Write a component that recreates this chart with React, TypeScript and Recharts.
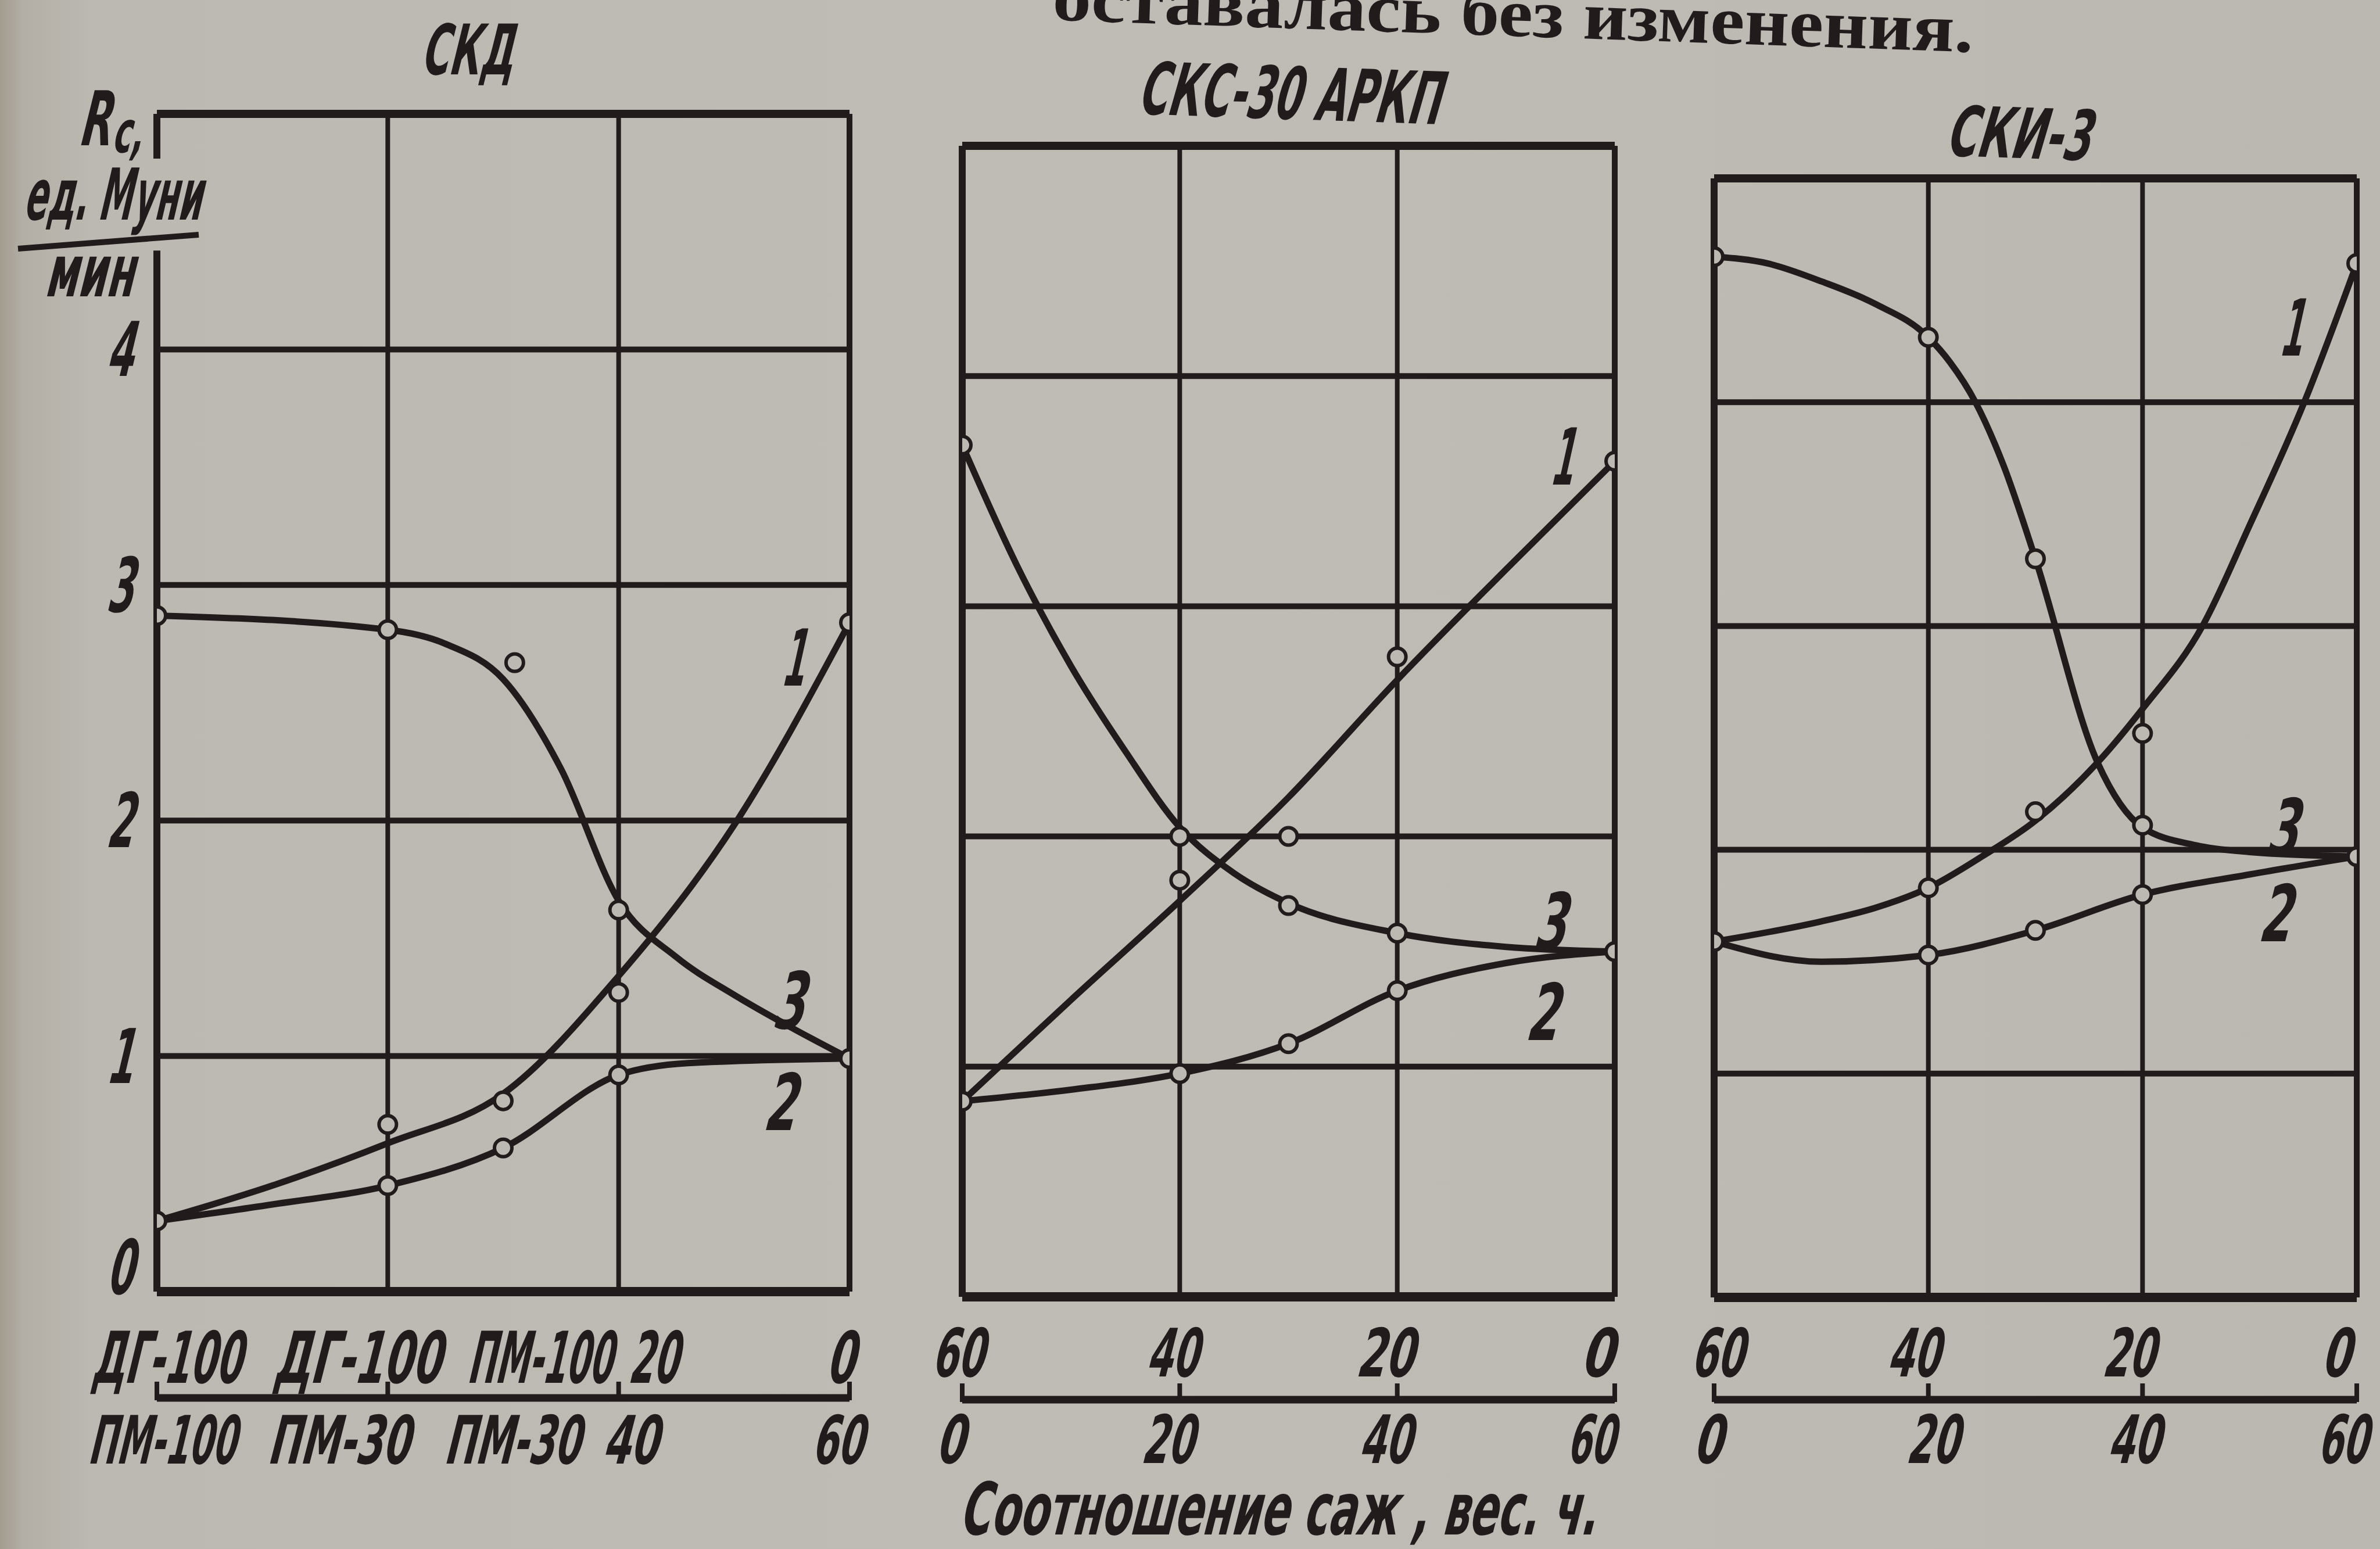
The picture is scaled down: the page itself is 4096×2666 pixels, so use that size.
import React from 'react';
import { ComposedChart, Line, Scatter, XAxis, YAxis, ReferenceLine } from 'recharts';

const INK = '#211b1b';
const PAPER = '#bcb9b2';
const SANS = '"DejaVu Sans", "Liberation Sans", sans-serif';
const SERIF = '"Liberation Serif", "DejaVu Serif", serif';

type Pt = { x: number; y: number };

// ---------- shared axes ----------
const gridX = [0, 1, 2, 3];
const gridY = [0, 1, 2, 3, 4, 5];
const yTicks = [0, 1, 2, 3, 4];
const yTickLabels = ['0', '1', '2', '3', '4'];

// ---------- Panel 1: СКД ----------
const p1LabelX = [0, 1, 1.5, 2, 3];
const p1TopLabels = ['ДГ-100', 'ДГ-100', 'ПМ-100', '20', '0'];
const p1BottomLabels = ['ПМ-100', 'ПМ-30', 'ПМ-30', '40', '60'];
const p1Curve1: Pt[] = [
  { x: 0, y: 0.3 }, { x: 0.5, y: 0.45 }, { x: 1, y: 0.63 }, { x: 1.5, y: 0.84 },
  { x: 2, y: 1.34 }, { x: 2.5, y: 1.98 }, { x: 3, y: 2.84 },
];
const p1Curve2: Pt[] = [
  { x: 0, y: 0.3 }, { x: 0.5, y: 0.37 }, { x: 1, y: 0.45 }, { x: 1.5, y: 0.61 },
  { x: 2, y: 0.92 }, { x: 2.3, y: 0.97 }, { x: 3, y: 0.99 },
];
const p1Curve3: Pt[] = [
  { x: 0, y: 2.87 }, { x: 1, y: 2.81 }, { x: 1.25, y: 2.75 }, { x: 1.5, y: 2.6 },
  { x: 1.75, y: 2.22 }, { x: 2, y: 1.66 }, { x: 2.25, y: 1.42 }, { x: 2.5, y: 1.26 },
  { x: 2.75, y: 1.12 }, { x: 3, y: 0.99 },
];
const p1Points1: Pt[] = [{ x: 0, y: 0.3 }, { x: 1, y: 0.71 }, { x: 1.5, y: 0.81 }, { x: 2, y: 1.27 }, { x: 3, y: 2.84 }];
const p1Points2: Pt[] = [{ x: 1, y: 0.45 }, { x: 1.5, y: 0.61 }, { x: 2, y: 0.92 }, { x: 3, y: 0.99 }];
const p1Points3: Pt[] = [{ x: 0, y: 2.87 }, { x: 1, y: 2.81 }, { x: 1.55, y: 2.67 }, { x: 2, y: 1.62 }];

// ---------- Panel 2: СКС-30 АРКП ----------
const p2LabelX = [0, 1, 2, 3];
const p2TopLabels = ['60', '40', '20', '0'];
const p2BottomLabels = ['0', '20', '40', '60'];
const p2Curve1: Pt[] = [
  { x: 0, y: 0.85 }, { x: 0.5, y: 1.29 }, { x: 1, y: 1.72 }, { x: 1.5, y: 2.17 },
  { x: 2, y: 2.68 }, { x: 2.5, y: 3.16 }, { x: 3, y: 3.63 },
];
const p2Curve2: Pt[] = [
  { x: 0, y: 0.85 }, { x: 0.5, y: 0.9 }, { x: 1, y: 0.97 }, { x: 1.5, y: 1.1 },
  { x: 2, y: 1.33 }, { x: 2.5, y: 1.45 }, { x: 3, y: 1.5 },
];
const p2Curve3: Pt[] = [
  { x: 0, y: 3.7 }, { x: 0.25, y: 3.18 }, { x: 0.5, y: 2.74 }, { x: 0.75, y: 2.37 },
  { x: 1, y: 2.04 }, { x: 1.25, y: 1.84 }, { x: 1.5, y: 1.71 }, { x: 2, y: 1.58 },
  { x: 2.5, y: 1.52 }, { x: 3, y: 1.5 },
];
const p2Points1: Pt[] = [{ x: 1, y: 1.81 }, { x: 1.5, y: 2.0 }, { x: 2, y: 2.78 }, { x: 3, y: 3.63 }];
const p2Points2: Pt[] = [{ x: 0, y: 0.85 }, { x: 1, y: 0.97 }, { x: 1.5, y: 1.1 }, { x: 2, y: 1.33 }, { x: 3, y: 1.5 }];
const p2Points3: Pt[] = [{ x: 0, y: 3.7 }, { x: 1, y: 2.0 }, { x: 1.5, y: 1.7 }, { x: 2, y: 1.58 }];

// ---------- Panel 3: СКИ-3 ----------
const p3LabelX = [0, 1, 2, 3];
const p3TopLabels = ['60', '40', '20', '0'];
const p3BottomLabels = ['0', '20', '40', '60'];
const p3Curve1: Pt[] = [
  { x: 0, y: 1.59 }, { x: 0.5, y: 1.68 }, { x: 0.75, y: 1.74 }, { x: 1, y: 1.83 },
  { x: 1.25, y: 1.97 }, { x: 1.5, y: 2.13 }, { x: 1.79, y: 2.39 }, { x: 2, y: 2.63 },
  { x: 2.28, y: 3.0 }, { x: 2.5, y: 3.45 }, { x: 2.755, y: 4.0 }, { x: 3, y: 4.62 },
];
const p3Curve2: Pt[] = [
  { x: 0, y: 1.59 }, { x: 0.5, y: 1.5 }, { x: 1, y: 1.53 }, { x: 1.5, y: 1.64 },
  { x: 2, y: 1.8 }, { x: 2.5, y: 1.89 }, { x: 3, y: 1.97 },
];
const p3Curve3: Pt[] = [
  { x: 0, y: 4.65 }, { x: 0.25, y: 4.62 }, { x: 0.5, y: 4.54 }, { x: 0.75, y: 4.44 },
  { x: 1, y: 4.29 }, { x: 1.1, y: 4.18 }, { x: 1.22, y: 4.0 }, { x: 1.35, y: 3.72 },
  { x: 1.5, y: 3.3 }, { x: 1.79, y: 2.39 }, { x: 2, y: 2.1 }, { x: 2.25, y: 2.02 },
  { x: 2.5, y: 1.99 }, { x: 3, y: 1.97 },
];
const p3Points1: Pt[] = [{ x: 1, y: 1.83 }, { x: 1.5, y: 2.17 }, { x: 2, y: 2.52 }, { x: 3, y: 4.62 }];
const p3Points2: Pt[] = [{ x: 0, y: 1.59 }, { x: 1, y: 1.53 }, { x: 1.5, y: 1.64 }, { x: 2, y: 1.8 }, { x: 3, y: 1.97 }];
const p3Points3: Pt[] = [{ x: 0, y: 4.65 }, { x: 1, y: 4.29 }, { x: 1.5, y: 3.3 }, { x: 2, y: 2.11 }];

// ---------- text helper ----------
function CText(props: any) {
  const { x, y, w, size, children, anchor = 'middle', rotate = 0, family = SANS, weight = 700, italic = true, skew = -8 } = props;
  const parts: string[] = [];
  if (rotate) parts.push(`rotate(${rotate} ${x} ${y})`);
  if (skew) parts.push(`translate(${x} ${y}) skewX(${skew}) translate(${-x} ${-y})`);
  return (
    <text
      x={x}
      y={y}
      fontSize={size}
      fontFamily={family}
      fontWeight={weight}
      fontStyle={italic ? 'italic' : 'normal'}
      textAnchor={anchor}
      fill={INK}
      textLength={w}
      lengthAdjust="spacingAndGlyphs"
      transform={parts.length ? parts.join(' ') : undefined}
    >
      {children}
    </text>
  );
}

const Marker = (props: any) => {
  const { cx, cy } = props;
  if (cx == null || cy == null) return <g />;
  return <circle cx={cx} cy={cy} r={15} fill={PAPER} stroke={INK} strokeWidth={6} />;
};

type PanelCfg = {
  left: number;
  marginLeft: number;
  yAxisWidth: number;
  showY: boolean;
  plotW: number;
  marginRight: number;
  plotTop: number;
  plotH: number;
  axisAH: number;
  axisBH: number;
  topBase: number;
  botBase: number;
  labelX: number[];
  topLabels: string[];
  bottomLabels: string[];
  topDx: number[];
  botDx: number[];
  topW: number[];
  botW: number[];
  topSize: number;
  botSize: number;
  curves: Pt[][];
  points: Pt[][];
  leftGap?: [number, number];
};

function Panel({ c }: { c: PanelCfg }) {
  const chartW = c.marginLeft + c.yAxisWidth + c.plotW + c.marginRight;
  const chartH = c.plotTop + c.plotH + c.axisAH + c.axisBH + 10;
  const idx = (v: number) => c.labelX.indexOf(v);
  return (
    <div style={{ position: 'absolute', left: c.left, top: 0, width: chartW, height: chartH }}>
      <ComposedChart
        width={chartW}
        height={chartH}
        margin={{ top: c.plotTop, right: c.marginRight, left: c.marginLeft, bottom: 10 }}
      >
        <XAxis
          xAxisId={0}
          dataKey="x"
          type="number"
          domain={[0, 3]}
          ticks={c.labelX}
          interval={0}
          axisLine={false}
          tickLine={false}
          tickSize={0}
          tickMargin={0}
          height={c.axisAH}
          allowDataOverflow
          tick={(t: any) => {
            const i = idx(t.payload.value);
            if (i < 0) return <g />;
            return (
              <CText x={t.x + c.topDx[i]} y={t.y + c.topBase} w={c.topW[i]} size={c.topSize}>
                {c.topLabels[i]}
              </CText>
            );
          }}
        />
        <XAxis
          xAxisId="b"
          dataKey="x"
          type="number"
          domain={[0, 3]}
          ticks={c.labelX}
          interval={0}
          axisLine={{ stroke: INK, strokeWidth: 13 }}
          tickLine={false}
          tickSize={0}
          tickMargin={0}
          height={c.axisBH}
          allowDataOverflow
          tick={(t: any) => {
            const v = t.payload.value;
            const i = idx(v);
            if (i < 0) return <g />;
            return (
              <g>
                {gridX.includes(v) && (
                  <line x1={t.x} x2={t.x} y1={t.y + 4} y2={t.y - 28} stroke={INK} strokeWidth={8} />
                )}
                <CText x={t.x + c.botDx[i]} y={t.y + c.botBase} w={c.botW[i]} size={c.botSize}>
                  {c.bottomLabels[i]}
                </CText>
              </g>
            );
          }}
        />
        <YAxis
          dataKey="y"
          type="number"
          domain={[0, 5]}
          ticks={yTicks}
          interval={0}
          width={c.yAxisWidth}
          hide={!c.showY}
          axisLine={false}
          tickLine={false}
          tickSize={0}
          tickMargin={0}
          allowDataOverflow
          tick={(t: any) => {
            const i = yTicks.indexOf(t.payload.value);
            if (i < 0) return <g />;
            const dy = t.payload.value === 0 ? 4 : 46;
            return (
              <CText x={t.x - 61} y={t.y + dy} w={46} size={130}>
                {yTickLabels[i]}
              </CText>
            );
          }}
        />
        {gridX.slice(1, 3).map((v) => (
          <ReferenceLine key={'gx' + v} x={v} stroke={INK} strokeWidth={8} />
        ))}
        {gridY.slice(1, 5).map((v) => (
          <ReferenceLine key={'gy' + v} y={v} stroke={INK} strokeWidth={10} />
        ))}
        <ReferenceLine y={0} stroke={INK} strokeWidth={16} />
        <ReferenceLine y={5} stroke={INK} strokeWidth={14} />
        <ReferenceLine x={3} stroke={INK} strokeWidth={10} />
        {c.leftGap ? (
          <ReferenceLine segment={[{ x: 0, y: 0 }, { x: 0, y: c.leftGap[0] }]} stroke={INK} strokeWidth={12} />
        ) : (
          <ReferenceLine x={0} stroke={INK} strokeWidth={12} />
        )}
        {c.leftGap && (
          <ReferenceLine segment={[{ x: 0, y: c.leftGap[1] }, { x: 0, y: 5 }]} stroke={INK} strokeWidth={12} />
        )}
        {c.curves.map((d, k) => (
          <Line
            key={'l' + k}
            data={d}
            dataKey="y"
            type="monotone"
            stroke={INK}
            strokeWidth={11}
            dot={false}
            activeDot={false}
            isAnimationActive={false}
          />
        ))}
        {c.points.map((d, k) => (
          <Scatter key={'s' + k} data={d} dataKey="y" shape={Marker} isAnimationActive={false} />
        ))}
      </ComposedChart>
    </div>
  );
}

const panel1: PanelCfg = {
  left: 0, marginLeft: 70, yAxisWidth: 200, showY: true, plotW: 1192, marginRight: 90,
  plotTop: 196, plotH: 2027, axisAH: 183, axisBH: 140, topBase: 157, botBase: 113,
  labelX: p1LabelX, topLabels: p1TopLabels, bottomLabels: p1BottomLabels,
  topDx: [19, -50, 65, 62, -13], botDx: [11, -82, 18, 23, -18],
  topW: [259, 289, 249, 85, 49], botW: [254, 244, 234, 95, 89],
  topSize: 123, botSize: 115,
  curves: [p1Curve1, p1Curve2, p1Curve3], points: [p1Points1, p1Points2, p1Points3],
  leftGap: [4.42, 4.81],
};
const panel2: PanelCfg = {
  left: 1556, marginLeft: 100, yAxisWidth: 0, showY: false, plotW: 1123, marginRight: 100,
  plotTop: 251, plotH: 1981, axisAH: 177, axisBH: 140, topBase: 137, botBase: 109,
  labelX: p2LabelX, topLabels: p2TopLabels, bottomLabels: p2BottomLabels,
  topDx: [-5, -10, -18, -27], botDx: [-18, -18, -18, -39],
  topW: [90, 89, 99, 57], botW: [49, 90, 90, 82],
  topSize: 115, botSize: 115,
  curves: [p2Curve1, p2Curve2, p2Curve3], points: [p2Points1, p2Points2, p2Points3],
};
const panel3: PanelCfg = {
  left: 2850, marginLeft: 100, yAxisWidth: 0, showY: false, plotW: 1106, marginRight: 40,
  plotTop: 307, plotH: 1926, axisAH: 176, axisBH: 140, topBase: 136, botBase: 109,
  labelX: p3LabelX, topLabels: p3TopLabels, bottomLabels: p3BottomLabels,
  topDx: [8, -23, -21, -33], botDx: [-8, 10, -12, -22],
  topW: [91, 90, 90, 50], botW: [50, 90, 90, 86],
  topSize: 115, botSize: 115,
  curves: [p3Curve1, p3Curve2, p3Curve3], points: [p3Points1, p3Points2, p3Points3],
};

export default function App() {
  return (
    <div
      style={{
        position: 'absolute',
        left: 0,
        top: 0,
        width: 4096,
        height: 2666,
        overflow: 'hidden',
        background: `linear-gradient(to right, #a39c8f 0px, #b3afa7 40px, ${PAPER} 160px, #bfbcb6 2000px, #bbb8b2 4096px)`,
      }}
    >
      <Panel c={panel1} />
      <Panel c={panel2} />
      <Panel c={panel3} />
      <svg
        width={4096}
        height={2666}
        style={{ position: 'absolute', left: 0, top: 0, pointerEvents: 'none' }}
      >
        {/* cropped running text at the top of the page */}
        <CText x={2603} y={62} w={1586} size={118} family={SERIF} weight={700} italic={false} skew={0} rotate={2}>
          оставалась без изменения.
        </CText>
        {/* panel titles */}
        <CText x={806} y={128} w={158} size={120}>СКД</CText>
        <CText x={2220} y={205} w={520} size={125} rotate={2}>СКС-30 АРКП</CText>
        <CText x={3475} y={272} w={248} size={120} rotate={2}>СКИ-3</CText>
        {/* y-axis unit */}
        <CText x={138} y={250} w={55} size={130} anchor="start">R</CText>
        <CText x={194} y={262} w={52} size={100} anchor="start">c,</CText>
        <CText x={42} y={378} w={306} size={123} anchor="start">ед. Муни</CText>
        <line x1={31} y1={428} x2={342} y2={404} stroke={INK} strokeWidth={10} />
        <CText x={79} y={510} w={153} size={125} anchor="start">мин</CText>
        {/* curve numbers */}
        <CText x={1367} y={1180} w={40} size={135}>1</CText>
        <CText x={1360} y={1770} w={55} size={135}>3</CText>
        <CText x={1345} y={1945} w={55} size={135}>2</CText>
        <CText x={2690} y={834} w={40} size={135}>1</CText>
        <CText x={2670} y={1634} w={55} size={135}>3</CText>
        <CText x={2657} y={1790} w={55} size={135}>2</CText>
        <CText x={3945} y={612} w={40} size={135}>1</CText>
        <CText x={3930} y={1472} w={55} size={135}>3</CText>
        <CText x={3918} y={1620} w={55} size={135}>2</CText>
        {/* x-axis title */}
        <CText x={1654} y={2641} w={1095} size={125} anchor="start">Соотношение  саж , вес. ч.</CText>
      </svg>
    </div>
  );
}
